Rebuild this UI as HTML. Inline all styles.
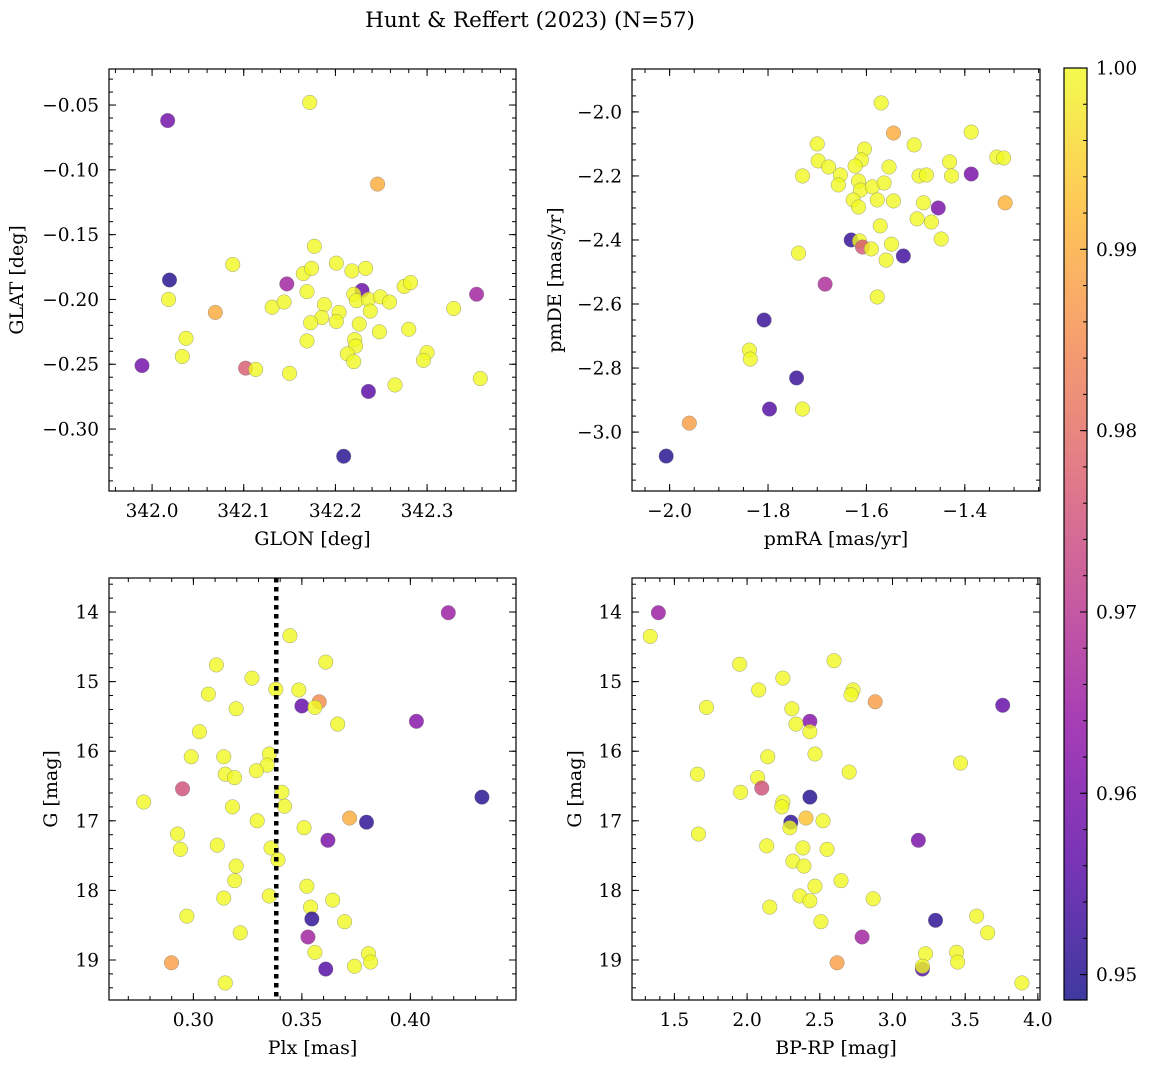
<!DOCTYPE html>
<html><head><meta charset="utf-8"><style>
body{margin:0;background:#fff;}
svg{display:block;font-family:"DejaVu Serif","Liberation Serif",serif;}
</style></head><body>
<svg id="fig" width="1149" height="1068" xmlns="http://www.w3.org/2000/svg">
<text x="530" y="27" text-anchor="middle" font-size="21.5">Hunt &amp; Reffert (2023) (N=57)</text>
</svg>
<script>
// Panel 1: GLON vs GLAT
const p1x=[342.172,342.017,342.246,342.019,342.088,342.177,342.018,342.069,342.037,342.033,341.989,342.102,342.113,342.150,342.131,342.144,342.147,342.165,342.174,342.169,342.201,342.188,342.185,342.173,342.169,342.204,342.201,342.218,342.233,342.229,342.220,342.223,342.236,342.238,342.249,342.259,342.226,342.221,342.222,342.213,342.220,342.248,342.236,342.265,342.275,342.282,342.280,342.300,342.296,342.329,342.354,342.358,342.209];
const p1y=[-0.048,-0.062,-0.111,-0.185,-0.173,-0.159,-0.200,-0.210,-0.230,-0.244,-0.251,-0.253,-0.254,-0.257,-0.206,-0.202,-0.188,-0.180,-0.176,-0.194,-0.172,-0.204,-0.214,-0.218,-0.232,-0.210,-0.217,-0.178,-0.176,-0.193,-0.196,-0.201,-0.200,-0.209,-0.198,-0.202,-0.219,-0.231,-0.236,-0.242,-0.248,-0.225,-0.271,-0.266,-0.190,-0.187,-0.223,-0.241,-0.247,-0.207,-0.196,-0.261,-0.321];
const p1c=[1,0.959,0.990,0.950,1,1,1,0.990,1,1,0.959,0.977,1,1,1,1,0.966,1,1,1,1,1,1,1,1,1,1,1,1,0.958,1,1,1,1,1,1,1,1,1,1,1,1,0.956,1,1,1,1,1,1,1,0.966,1,0.950];
// Panel 2: pmRA vs pmDE
const p2x=[-1.570,-1.545,-1.700,-1.604,-1.610,-1.503,-1.387,-1.335,-1.321,-1.387,-1.698,-1.677,-1.653,-1.623,-1.554,-1.730,-1.657,-1.616,-1.612,-1.588,-1.564,-1.493,-1.431,-1.427,-1.478,-1.627,-1.616,-1.578,-1.545,-1.484,-1.572,-1.497,-1.468,-1.454,-1.448,-1.318,-1.631,-1.614,-1.608,-1.590,-1.549,-1.560,-1.525,-1.738,-1.578,-1.684,-1.808,-1.838,-1.836,-1.742,-1.797,-1.730,-1.960,-2.007];
const p2y=[-1.972,-2.066,-2.100,-2.116,-2.150,-2.103,-2.063,-2.141,-2.144,-2.194,-2.153,-2.172,-2.197,-2.169,-2.172,-2.200,-2.228,-2.216,-2.244,-2.234,-2.222,-2.200,-2.156,-2.200,-2.197,-2.275,-2.297,-2.275,-2.278,-2.284,-2.356,-2.334,-2.344,-2.300,-2.397,-2.284,-2.400,-2.403,-2.422,-2.428,-2.413,-2.463,-2.450,-2.441,-2.578,-2.538,-2.650,-2.744,-2.772,-2.831,-2.928,-2.928,-2.972,-3.075];
const p2c=[1,0.990,1,1,1,1,1,1,1,0.960,1,1,1,1,1,1,1,1,1,1,1,1,1,1,1,1,1,1,1,1,1,1,1,0.960,1,0.991,0.952,1,0.976,1,1,1,0.953,1,1,0.968,0.952,1,1,0.952,0.955,1,0.988,0.950];
// Panel 3: Plx vs G
const p3x=[0.4175,0.3445,0.361,0.3106,0.327,0.338,0.3486,0.3069,0.358,0.350,0.356,0.3197,0.4028,0.3665,0.3028,0.299,0.314,0.335,0.334,0.329,0.3147,0.319,0.295,0.3408,0.2771,0.433,0.342,0.318,0.3294,0.372,0.3798,0.351,0.2927,0.3358,0.311,0.294,0.362,0.339,0.3197,0.319,0.3523,0.3642,0.335,0.314,0.354,0.3697,0.3546,0.297,0.3216,0.3528,0.356,0.3807,0.3817,0.2899,0.361,0.3743,0.3147];
const p3y=[14.01,14.34,14.72,14.76,14.95,15.11,15.12,15.18,15.29,15.35,15.37,15.39,15.57,15.61,15.72,16.08,16.08,16.04,16.20,16.28,16.33,16.38,16.54,16.59,16.73,16.66,16.79,16.80,17.00,16.96,17.02,17.10,17.19,17.39,17.35,17.41,17.28,17.56,17.65,17.86,17.94,18.14,18.08,18.11,18.24,18.45,18.41,18.37,18.61,18.67,18.89,18.91,19.03,19.04,19.13,19.09,19.33];
const p3c=[0.965,1,1,1,1,1,1,1,0.985,0.957,1,1,0.962,1,1,1,1,1,1,1,1,1,0.975,1,1,0.950,1,1,1,0.990,0.951,1,1,1,1,1,0.960,1,1,1,1,1,1,1,1,1,0.951,1,1,0.966,1,1,1,0.988,0.955,1,1];
const plxMedian=[0.3382];
// Panel 4: BP-RP vs G
const p4x=[1.39,1.334,2.598,1.949,2.246,2.729,2.715,2.080,2.881,3.758,1.721,2.308,2.432,2.336,2.432,2.467,2.142,3.468,2.702,1.659,2.073,2.101,1.956,2.432,2.246,2.239,2.405,2.522,2.301,2.294,1.666,2.135,2.55,3.178,2.384,2.315,2.391,2.646,2.467,2.867,2.363,2.432,2.156,3.579,3.296,2.508,3.655,2.791,3.441,3.227,3.448,2.619,3.206,3.206,3.89];
const p4y=[14.01,14.35,14.70,14.75,14.95,15.12,15.19,15.12,15.29,15.34,15.37,15.39,15.57,15.61,15.72,16.04,16.08,16.17,16.30,16.33,16.38,16.53,16.59,16.66,16.73,16.80,16.96,17.00,17.02,17.10,17.19,17.36,17.41,17.28,17.39,17.58,17.65,17.86,17.94,18.12,18.08,18.15,18.24,18.37,18.43,18.45,18.61,18.67,18.89,18.91,19.03,19.04,19.13,19.09,19.33];
const p4c=[0.965,1,1,1,1,1,1,1,0.988,0.957,1,1,0.962,1,1,1,1,1,1,1,1,0.975,1,0.950,1,1,0.993,1,0.951,1,1,1,1,0.960,1,1,1,1,1,1,1,1,1,1,0.951,1,1,0.966,1,1,1,0.988,0.955,1,1];
const cbarTicks=[0.95,0.96,0.97,0.98,0.99,1.00];

const NS="http://www.w3.org/2000/svg";
const svg=document.getElementById('fig');
function mk(tag,attrs,parent){const e=document.createElementNS(NS,tag);for(const k in attrs)e.setAttribute(k,attrs[k]);(parent||svg).appendChild(e);return e;}
const stops=[[13,8,135],[84,2,163],[139,10,165],[185,50,137],[219,92,104],[244,136,73],[254,188,43],[240,249,33]];
function plasma(t){t=Math.max(0,Math.min(1,t));const s=t*(stops.length-1);const i=Math.min(stops.length-2,Math.floor(s));const f=s-i;const a=stops[i],b=stops[i+1];return 'rgb('+[0,1,2].map(k=>Math.round(a[k]+(b[k]-a[k])*f)).join(',')+')';}
const CMIN=0.9486,CMAX=1.0;
function col(v){return plasma((v-CMIN)/(CMAX-CMIN));}
const TFS=18.5, LFS=19;

function panel(o){
  const g=mk('g',{});
  
  
  const X=v=>o.x0+(v-o.xa)/(o.xb-o.xa)*(o.x1-o.x0);
  const Y=v=>o.y0+(v-o.ya)/(o.yb-o.ya)*(o.y1-o.y0);
  const pts=mk('g',{},g);
  for(let i=0;i<o.xs.length;i++){
    const c=mk('circle',{cx:X(o.xs[i]),cy:Y(o.ys[i]),r:7.3,fill:col(o.cs[i]),'fill-opacity':0.8,stroke:'#777','stroke-width':0.5,'stroke-opacity':0.7},pts);
    
    
  }
  if(o.vline){for(const v of o.vline){const l=mk('line',{x1:X(v),x2:X(v),y1:o.y0,y2:o.y1,stroke:'#000','stroke-width':4.5,'stroke-dasharray':'4.5 4.5'},g);}}
  const fr=mk('rect',{x:o.x0,y:Math.min(o.y0,o.y1),width:o.x1-o.x0,height:Math.abs(o.y1-o.y0),fill:'none',stroke:'#000','stroke-width':1.2},g);
  
  const top=Math.min(o.y0,o.y1),bot=Math.max(o.y0,o.y1);
  const eps=1e-9;
  function tk(a,b,step,len,fn){const s=Math.ceil((a-eps)/step);for(let k=s;k*step<=b+eps;k++)fn(k*step,len);}
  const xlo=Math.min(o.xa,o.xb),xhi=Math.max(o.xa,o.xb),ylo=Math.min(o.ya,o.yb),yhi=Math.max(o.ya,o.yb);
  [[o.xmin,4],[o.xmaj,7]].forEach(([st,len])=>tk(xlo,xhi,st,len,v=>{const x=X(v);mk('line',{x1:x,x2:x,y1:bot,y2:bot-len,stroke:'#000','stroke-width':1},g);mk('line',{x1:x,x2:x,y1:top,y2:top+len,stroke:'#000','stroke-width':1},g);}));
  [[o.ymin,4],[o.ymaj,7]].forEach(([st,len])=>tk(ylo,yhi,st,len,v=>{const y=Y(v);mk('line',{x1:o.x0,x2:o.x0+len,y1:y,y2:y,stroke:'#000','stroke-width':1},g);mk('line',{x1:o.x1,x2:o.x1-len,y1:y,y2:y,stroke:'#000','stroke-width':1},g);}));
  tk(xlo,xhi,o.xmaj,0,v=>{const t=mk('text',{x:X(v),y:bot+26,'text-anchor':'middle','font-size':TFS},g);t.textContent=o.fx(v);});
  tk(ylo,yhi,o.ymaj,0,v=>{const t=mk('text',{x:o.x0-10,y:Y(v)+6.5,'text-anchor':'end','font-size':TFS},g);t.textContent=o.fy(v);});
  const xl=mk('text',{x:(o.x0+o.x1)/2,y:bot+54,'text-anchor':'middle','font-size':LFS},g);xl.textContent=o.xlabel;
  
  const yx=o.ylx,yy=(top+bot)/2;
  const yl=mk('text',{x:yx,y:yy,'text-anchor':'middle','font-size':LFS,transform:`rotate(-90 ${yx} ${yy})`},g);yl.textContent=o.ylabel;
  
}
const m=s=>s.replace('-','\u2212');
panel({name:'glon-glat-panel',xs:p1x,ys:p1y,cs:p1c,x0:109,x1:516,y0:69,y1:491,xa:341.953,xb:342.397,ya:-0.0222,yb:-0.3478,xmaj:0.1,xmin:0.02,ymaj:0.05,ymin:0.01,fx:v=>v.toFixed(1),fy:v=>m(v.toFixed(2)),xlabel:'GLON [deg]',ylabel:'GLAT [deg]',ylx:23});
panel({name:'proper-motion-panel',xs:p2x,ys:p2y,cs:p2c,x0:632,x1:1040,y0:69,y1:491,xa:-2.0765,xb:-1.2472,ya:-1.866,yb:-3.184,xmaj:0.2,xmin:0.05,ymaj:0.2,ymin:0.05,fx:v=>m(v.toFixed(1)),fy:v=>m(v.toFixed(1)),xlabel:'pmRA [mas/yr]',ylabel:'pmDE [mas/yr]',ylx:561});
panel({name:'parallax-magnitude-panel',xs:p3x,ys:p3y,cs:p3c,vline:plxMedian,x0:109,x1:516,y0:578,y1:1000,xa:0.2611,xb:0.4487,ya:13.511,yb:19.575,xmaj:0.05,xmin:0.01,ymaj:1,ymin:0.2,fx:v=>v.toFixed(2),fy:v=>v.toFixed(0),xlabel:'Plx [mas]',ylabel:'G [mag]',ylx:57});
panel({name:'cmd-panel',xs:p4x,ys:p4y,cs:p4c,x0:632,x1:1040,y0:578,y1:1000,xa:1.2085,xb:4.0145,ya:13.511,yb:19.575,xmaj:0.5,xmin:0.1,ymaj:1,ymin:0.2,fx:v=>v.toFixed(1),fy:v=>v.toFixed(0),xlabel:'BP-RP [mag]',ylabel:'G [mag]',ylx:581});

// colorbar
const cb=mk('g',{});


const defs=mk('defs',{},cb);
const lg=mk('linearGradient',{id:'cg',x1:0,y1:1,x2:0,y2:0},defs);
for(let i=0;i<=20;i++){mk('stop',{offset:i/20,'stop-color':plasma(i/20),'stop-opacity':0.8},lg);}
const CY0=68,CY1=1000,CX0=1064,CX1=1087;
mk('rect',{x:CX0,y:CY0,width:CX1-CX0,height:CY1-CY0,fill:'url(#cg)',stroke:'#000','stroke-width':1.2},cb);
const CYf=v=>CY1-(v-CMIN)/(CMAX-CMIN)*(CY1-CY0);
for(let k=Math.ceil(CMIN/0.002);k*0.002<=CMAX+1e-9;k++){const y=CYf(k*0.002);mk('line',{x1:CX1,x2:CX1-4,y1:y,y2:y,stroke:'#000','stroke-width':1},cb);}
cbarTicks.forEach(v=>{const y=CYf(v);mk('line',{x1:CX1,x2:CX1-7,y1:y,y2:y,stroke:'#000','stroke-width':1},cb);const t=mk('text',{x:CX1+9,y:y+6.5,'font-size':TFS},cb);t.textContent=v.toFixed(2);});
</script>
</body></html>
